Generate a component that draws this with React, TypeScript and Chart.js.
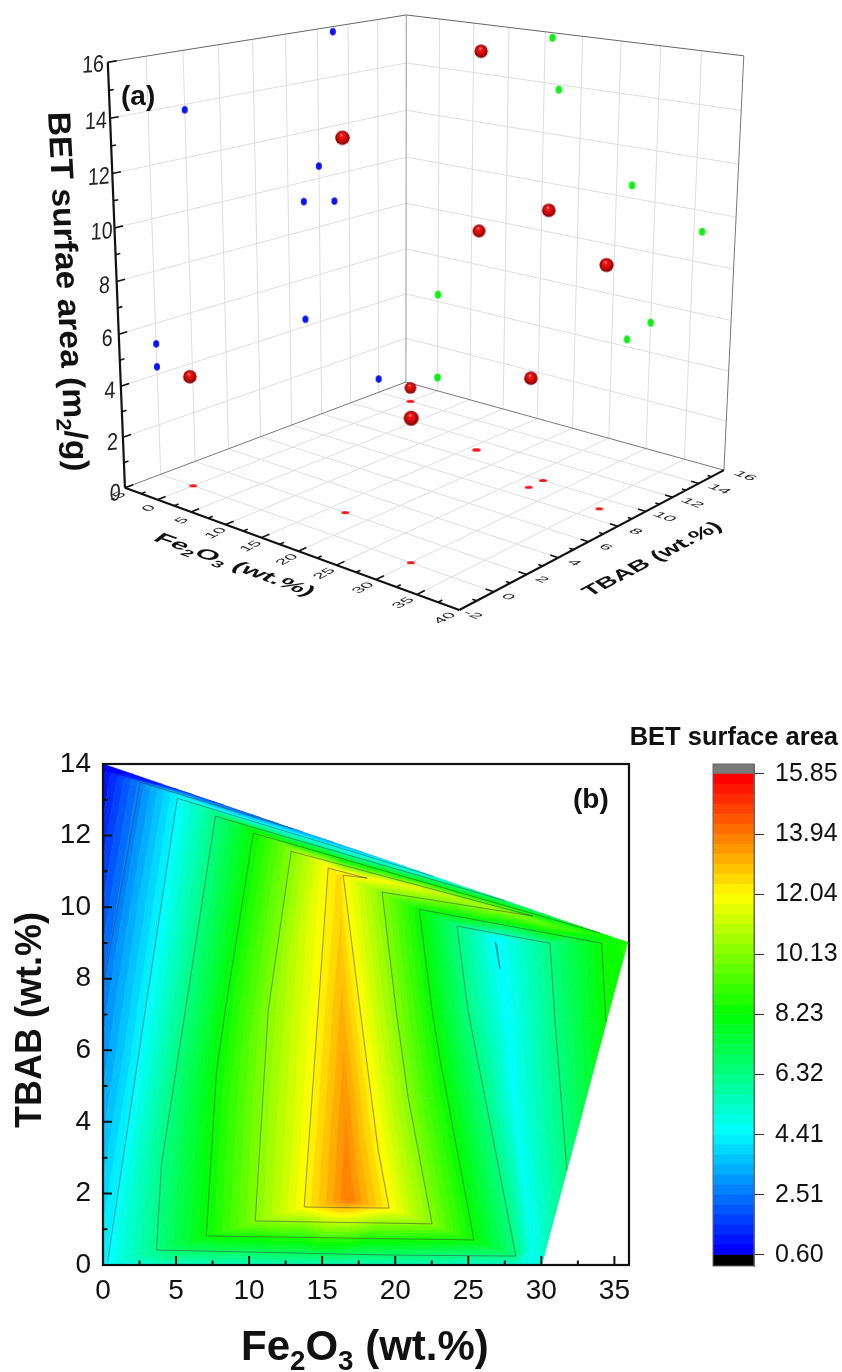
import React, { useEffect, useRef } from "react";
import { Chart, registerables } from "chart.js";
Chart.register(...registerables);

// ---------- measured data (panel a) ----------
const fe2o3 = [16, 17, 27, 36, 0, 30, 27, 0, 16];
const tbab = [11, 2, 10, 9, 0, 0, 9, 14, 11];
const bet = [15.8, 13.8, 10.5, 9.2, 4.3, 5.2, 4.3, 0.6, 8.9];
const feTicks = [-5, 0, 5, 10, 15, 20, 25, 30, 35, 40];
const tbTicks = [-2, 0, 2, 4, 6, 8, 10, 12, 14, 16];
const zTicks = [0, 2, 4, 6, 8, 10, 12, 14, 16];

// ---------- contour mesh (panel b): columns of nodes, bottom edge to top edge ----------
const meshFe = [
  [0, 0, 0, 0, 0, 0, 0],
  [0.17, 0.31, 1.95, 2.9, 5.09, 5.09, 5.09],
  [3.45, 3.66, 4.61, 5.64, 7.69, 7.69, 7.69],
  [6.87, 7.07, 7.62, 8.37, 10.29, 10.29, 10.29],
  [10.22, 10.42, 10.83, 11.31, 12.88, 12.88, 12.88],
  [13.57, 13.77, 14.32, 14.73, 15.41, 15.41, 15.41],
  [16.71, 16.78, 16.58, 16.37, 16.23, 16.3, 16.3],
  [19.79, 19.58, 18.42, 17.6, 16.44, 18.08, 18.08],
  [22.73, 22.52, 20.88, 20.06, 19.1, 19.1, 19.1],
  [25.6, 25.39, 23.55, 22.52, 21.64, 21.64, 21.64],
  [28.4, 28.26, 26.21, 24.98, 24.23, 24.23, 24.23],
  [29.22, 29.36, 28.13, 27.65, 26.96, 26.96, 26.96],
  [29.7, 30.45, 31.48, 30.93, 30.59, 30.59, 30.59],
  [30, 30.72, 32.09, 34.42, 34.14, 34.14, 34.14],
  [30, 30.72, 32.09, 34.42, 35.85, 35.92, 36],
];
const meshTbab = [
  [0, 0.7, 4.61, 7.77, 13.69, 13.83, 14],
  [0, 0.28, 4.61, 7.12, 13.04, 13.13, 13.29],
  [0, 0.42, 4.61, 7.12, 12.54, 12.63, 12.93],
  [0, 0.81, 4.61, 7.12, 12.07, 12.15, 12.57],
  [0, 1.23, 4.61, 7.12, 11.56, 11.64, 12.21],
  [0, 1.62, 4.61, 7.12, 11.09, 11.17, 11.86],
  [0, 1.82, 4.61, 7.12, 10.75, 10.98, 11.74],
  [0, 1.59, 4.61, 7.12, 10.89, 10.81, 11.49],
  [0, 1.15, 4.69, 7.12, 10.42, 10.75, 11.35],
  [0, 0.7, 4.61, 7.12, 9.94, 10.53, 11],
  [0, 0.25, 4.61, 7.12, 9.47, 10.25, 10.63],
  [0, 0.42, 4.61, 7.12, 9.13, 9.94, 10.26],
  [0, 0.98, 3.21, 6.84, 8.99, 9.5, 9.75],
  [0, 1.12, 3.21, 6.79, 8.99, 9.22, 9.26],
  [0, 1.12, 3.21, 6.79, 8.94, 9, 9],
];
const meshBet = [
  [4.3, 4.2, 3.2, 2.51, 0.9, 0.75, 0.6],
  [4.41, 4.41, 4.41, 4.41, 4.41, 4.41, 1.4],
  [5.3, 6.32, 6.32, 6.32, 6.32, 6.32, 1.8],
  [5.4, 8.23, 8.23, 8.23, 8.23, 8.23, 2.1],
  [5.45, 10.13, 10.13, 10.13, 10.13, 10.13, 2.7],
  [5.5, 12.04, 12.04, 12.04, 12.04, 12.04, 3.1],
  [5.5, 13.95, 13.55, 13.1, 12.5, 12.3, 3.2],
  [5.5, 12.04, 12.04, 12.04, 12.04, 12.04, 3.5],
  [5.4, 10.13, 10.13, 10.13, 10.13, 11.87, 3.9],
  [5.2, 8.23, 8.23, 8.23, 8.23, 11.45, 4.2],
  [5, 6.32, 6.32, 6.32, 6.32, 10.8, 5.3],
  [4.7, 4.7, 4.6, 4.5, 4.41, 10.45, 6.1],
  [4.85, 5.5, 6.32, 6.32, 6.32, 9.4, 6.9],
  [5.05, 5.9, 6.6, 8.23, 8.23, 8.5, 8],
  [5.05, 5.9, 6.6, 8.23, 8.6, 8.6, 8.6],
];
const contourLines: number[][][] = [
  [[0, 7.77], [2.56, 13.49], [13, 12.19]],
  [[0.31, 0.08], [2.9, 7.12], [5.09, 13.04], [22.6, 10.86]],
  [[27.5, 10.18], [7.69, 12.54], [5.64, 7.12], [4.0, 2.8], [3.66, 0.42], [19.2, 0.28], [28.26, 0.25], [24.98, 7.12], [24.23, 9.47], [30.59, 8.99], [30.93, 6.84], [31.75, 2.65]],
  [[34, 9.28], [10.29, 12.07], [8.37, 7.12], [7.76, 5.36], [7.07, 0.81], [25.39, 0.7], [23.07, 5.73], [22.52, 7.12], [21.64, 9.94], [34.14, 8.99], [34.42, 6.79]],
  [[12.88, 11.56], [29.43, 9.75], [19.1, 10.42], [20.06, 7.12], [20.88, 4.69], [22.52, 1.15], [10.42, 1.23], [11.31, 7.12], [12.88, 11.56]],
  [[15.41, 11.09], [18.08, 10.81], [16.44, 10.89], [17.6, 7.12], [18.83, 3.21], [19.58, 1.59], [13.77, 1.62], [14.73, 7.12], [15.41, 11.09]],
  [[26.83, 9.02], [27.17, 8.27], [26.96, 8.95], [26.83, 9.02]],
];
const xTicksB = [0, 5, 10, 15, 20, 25, 30, 35];
const yTicksB = [0, 2, 4, 6, 8, 10, 12, 14];
const barTicks = [0.6, 2.51, 4.41, 6.32, 8.23, 10.13, 12.04, 13.94, 15.85];
const LEVEL_MIN = 0.6;
const LEVEL_MAX = 15.85;
const LEVEL_COUNT = 48;

// ---------- projection of the 3D box ----------
const anchors = [
  [-5, -2, 0, 125, 488], [40, -2, 0, 459, 610], [40, 16, 0, 724, 470], [-5, 16, 0, 406, 382],
  [-5, -2, 16, 108, 62], [-5, 16, 16, 406, 15], [40, 16, 16, 744, 56],
];
function solve(A: number[][], b: number[]) {
  const n = b.length;
  const M = A.map((r, i) => [...r, b[i]]);
  for (let c = 0; c < n; c++) {
    let p = c;
    for (let r = c; r < n; r++) if (Math.abs(M[r][c]) > Math.abs(M[p][c])) p = r;
    [M[c], M[p]] = [M[p], M[c]];
    for (let r = 0; r < n; r++) {
      if (r === c) continue;
      const f = M[r][c] / M[c][c];
      for (let k = c; k <= n; k++) M[r][k] -= f * M[c][k];
    }
  }
  return M.map((r, i) => r[n] / r[i]);
}
function fit() {
  const rows: number[][] = [], rhs: number[] = [];
  for (const [fe, tb, z, x, y] of anchors) {
    const u = (fe + 5) / 45, v = (tb + 2) / 18, w = z / 16, X = x / 1000, Y = y / 1000;
    rows.push([u, v, w, 1, 0, 0, 0, 0, -X * u, -X * v, -X * w]); rhs.push(X);
    rows.push([0, 0, 0, 0, u, v, w, 1, -Y * u, -Y * v, -Y * w]); rhs.push(Y);
  }
  const N = Array.from({ length: 11 }, (_, i) => Array.from({ length: 11 }, (_, j) => rows.reduce((s, r) => s + r[i] * r[j], 0)));
  const B = Array.from({ length: 11 }, (_, i) => rows.reduce((s, r, k) => s + r[i] * rhs[k], 0));
  return solve(N, B);
}
const P = fit();
function project(fe: number, tb: number, z: number) {
  const u = (fe + 5) / 45, v = (tb + 2) / 18, w = z / 16;
  const d = P[8] * u + P[9] * v + P[10] * w + 1;
  return { x: (1000 * (P[0] * u + P[1] * v + P[2] * w + P[3])) / d, y: (1000 * (P[4] * u + P[5] * v + P[6] * w + P[7])) / d, d };
}
const SANS = '"Liberation Sans", Arial, sans-serif';

function lineDs(points: { x: number; y: number }[], color: string, width: number, dash: number[] = []) {
  return { type: "scatter", data: points, showLine: true, borderColor: color, borderWidth: width, borderDash: dash, pointRadius: 0, fill: false, tension: 0 };
}
function seg(a: number[], b: number[]) {
  return [project(a[0], a[1], a[2]), project(b[0], b[1], b[2])];
}
function sprite(w: number, h: number, color: string) {
  const c = document.createElement("canvas");
  c.width = Math.ceil(w) + 2; c.height = Math.ceil(h) + 2;
  const g = c.getContext("2d")!;
  g.fillStyle = color;
  g.beginPath();
  g.ellipse(c.width / 2, c.height / 2, w / 2, h / 2, 0, 0, Math.PI * 2);
  g.fill();
  return c;
}
function sphere(d: number) {
  const c = document.createElement("canvas");
  c.width = c.height = Math.ceil(d) + 2;
  const g = c.getContext("2d")!;
  const m = c.width / 2, r = d / 2;
  const grad = g.createRadialGradient(m - r * 0.15, m - r * 0.45, r * 0.03, m, m, r);
  grad.addColorStop(0, "#ffb0b0");
  grad.addColorStop(0.2, "#f21a1a");
  grad.addColorStop(0.6, "#d00a0a");
  grad.addColorStop(1, "#780000");
  g.fillStyle = grad;
  g.beginPath();
  g.arc(m, m, r, 0, Math.PI * 2);
  g.fill();
  return c;
}
type Run = { t: string; sub?: boolean };
function drawRuns(ctx: CanvasRenderingContext2D, x: number, y: number, u: number[], v: number[], font: (s: number) => string, size: number, runs: Run[]) {
  ctx.save();
  ctx.transform(u[0], u[1], v[0], v[1], x, y);
  ctx.textBaseline = "alphabetic";
  ctx.textAlign = "left";
  let pen = 0;
  for (const r of runs) {
    const s = r.sub ? size * 0.66 : size;
    ctx.font = font(s);
    ctx.fillText(r.t, pen, r.sub ? size * 0.24 : 0);
    pen += ctx.measureText(r.t).width;
  }
  ctx.restore();
}
function centered(ctx: CanvasRenderingContext2D, text: string, x: number, y: number, u: number[], v: number[], size: number) {
  ctx.save();
  ctx.transform(u[0], u[1], v[0], v[1], x, y);
  ctx.font = `${size}px ${SANS}`;
  ctx.textAlign = "center";
  ctx.textBaseline = "middle";
  ctx.fillText(text, 0, 0);
  ctx.restore();
}

const panelAText = {
  id: "panelAText",
  afterDraw(chart: any) {
    const ctx = chart.ctx as CanvasRenderingContext2D;
    ctx.save();
    ctx.fillStyle = "#222";
    const feU = [0.8, -0.42], feV = [0.62, 0.27];
    for (const t of feTicks) {
      const p = project(t + 1.2 - 0.025 * (t + 5), -2.85, 0);
      centered(ctx, String(t), p.x, p.y, feU, feV, 19);
    }
    const tbU = [0.9, 0.33], tbV = [-0.55, 0.3];
    for (const t of tbTicks) {
      const p = project(42.6 - (16 - t) * 0.06, t, 0);
      centered(ctx, String(t), p.x, p.y, tbU, tbV, 19);
    }
    for (const t of zTicks) {
      const p = project(-5, -2.75, t);
      centered(ctx, String(t), p.x + (16 - t) * 0.25, p.y + 1, [0.82, -0.07], [-0.03, 1], 24);
    }
    const bold = (s: number) => `bold ${s}px ${SANS}`;
    ctx.fillStyle = "#111";
    drawRuns(ctx, 121, 105, [1, 0], [0, 1], bold, 28, [{ t: "(a)" }]);
    drawRuns(ctx, 48, 112, [0.055, 1.05], [-1, 0.02], bold, 32, [
      { t: "BET surfae area (m" }, { t: "2", sub: true }, { t: "/g)" },
    ]);
    drawRuns(ctx, 152, 540, [0.98, 0.355], [-0.55, 0.42], bold, 27, [
      { t: "Fe" }, { t: "2", sub: true }, { t: "O" }, { t: "3", sub: true }, { t: " (wt.%)" },
    ]);
    drawRuns(ctx, 590, 597, [0.89, -0.46], [0.6, 0.45], bold, 25, [{ t: "TBAB (wt.%)" }]);
    ctx.restore();
  },
};

function bandColor(i: number) {
  const t = (i / (LEVEL_COUNT - 1)) * 4;
  const s = Math.min(3, Math.floor(t));
  const f = Math.round((t - s) * 255);
  const c = [`0,${f},255`, `0,255,${255 - f}`, `${f},255,0`, `255,${255 - f},0`][s];
  return `rgb(${c})`;
}
const contourFill = {
  id: "contourFill",
  beforeDatasetsDraw(chart: any) {
    const ctx = chart.ctx as CanvasRenderingContext2D;
    const sx = chart.scales.x, sy = chart.scales.y;
    const step = (LEVEL_MAX - LEVEL_MIN) / LEVEL_COUNT;
    const clip = (poly: number[][], lvl: number, keepAbove: boolean) => {
      const out: number[][] = [];
      for (let i = 0; i < poly.length; i++) {
        const a = poly[i], b = poly[(i + 1) % poly.length];
        const ia = keepAbove ? a[2] >= lvl : a[2] <= lvl;
        const ib = keepAbove ? b[2] >= lvl : b[2] <= lvl;
        if (ia) out.push(a);
        if (ia !== ib) {
          const k = (lvl - a[2]) / (b[2] - a[2]);
          out.push([a[0] + (b[0] - a[0]) * k, a[1] + (b[1] - a[1]) * k, lvl]);
        }
      }
      return out;
    };
    const node = (c: number, r: number) => [meshFe[c][r], meshTbab[c][r], meshBet[c][r]];
    const paint = (tri: number[][]) => {
      for (let i = 0; i < LEVEL_COUNT; i++) {
        const lo = LEVEL_MIN + i * step, hi = lo + step;
        let poly = tri;
        if (i > 0) poly = clip(poly, lo, true);
        if (poly.length && i < LEVEL_COUNT - 1) poly = clip(poly, hi, false);
        if (poly.length < 3) continue;
        const col = bandColor(i);
        ctx.fillStyle = col;
        ctx.strokeStyle = col;
        ctx.lineWidth = 0.6;
        ctx.beginPath();
        poly.forEach((p, k) => {
          const X = sx.getPixelForValue(p[0]), Y = sy.getPixelForValue(p[1]);
          if (k) ctx.lineTo(X, Y); else ctx.moveTo(X, Y);
        });
        ctx.closePath();
        ctx.fill();
        ctx.stroke();
      }
    };
    for (let c = 0; c < meshFe.length - 1; c++) {
      for (let r = 0; r < meshFe[c].length - 1; r++) {
        const a = node(c, r), b = node(c + 1, r), d = node(c + 1, r + 1), e = node(c, r + 1);
        paint([a, b, d]);
        paint([a, d, e]);
      }
    }
  },
};
const panelBFrame = {
  id: "panelBFrame",
  afterDatasetsDraw(chart: any) {
    const ctx = chart.ctx as CanvasRenderingContext2D;
    const { left, right, top, bottom } = chart.chartArea;
    const sx = chart.scales.x, sy = chart.scales.y;
    ctx.save();
    ctx.strokeStyle = "#111";
    ctx.lineWidth = 2;
    ctx.beginPath();
    for (let v = 0; v <= 36; v += 2.5) {
      const X = sx.getPixelForValue(v);
      ctx.moveTo(X, bottom);
      ctx.lineTo(X, bottom - (xTicksB.includes(v) ? 9 : 4.5));
    }
    for (let v = 0; v <= 14; v += 1) {
      const Y = sy.getPixelForValue(v);
      ctx.moveTo(left, Y);
      ctx.lineTo(left + (yTicksB.includes(v) ? 9 : 4.5), Y);
    }
    ctx.stroke();
    ctx.lineWidth = 2.2;
    ctx.strokeRect(left, top, right - left, bottom - top);
    ctx.fillStyle = "#111";
    const bold = (s: number) => `bold ${s}px ${SANS}`;
    drawRuns(ctx, 573, 108, [1, 0], [0, 1], bold, 28, [{ t: "(b)" }]);
    drawRuns(ctx, 241, 660, [1, 0], [0, 1], bold, 42, [
      { t: "Fe" }, { t: "2", sub: true }, { t: "O" }, { t: "3", sub: true }, { t: " (wt.%)" },
    ]);
    drawRuns(ctx, 41, 428, [0, -1], [1, 0], bold, 36, [{ t: "TBAB (wt.%)" }]);
    ctx.restore();
  },
};

export default function App() {
  const refA = useRef<HTMLCanvasElement>(null);
  const refB = useRef<HTMLCanvasElement>(null);
  const refC = useRef<HTMLCanvasElement>(null);
  useEffect(() => {
    document.body.style.margin = "0";
    const pts = fe2o3.map((f, i) => project(f, tbab[i], bet[i]));
    const avgD = pts.reduce((s, p) => s + p.d, 0) / pts.length;
    const grid = "#dedede";
    const datasets: any[] = [
      { type: "scatter", data: pts.map((p) => ({ x: p.x, y: p.y })), pointStyle: pts.map((p) => sphere((13.5 * avgD) / p.d)), pointRadius: 7, showLine: false },
      { type: "scatter", data: bet.map((z, i) => project(-5, tbab[i], z)), pointStyle: sprite(6, 7.5, "#0a14f0"), pointRadius: 4, showLine: false },
      { type: "scatter", data: bet.map((z, i) => project(fe2o3[i], 16, z)), pointStyle: sprite(6.5, 8, "#12ee18"), pointRadius: 4, showLine: false },
      { type: "scatter", data: fe2o3.map((f, i) => project(f, tbab[i], 0)), pointStyle: sprite(8, 3, "#f01818"), pointRadius: 4, showLine: false },
    ];
    datasets.push(lineDs(seg([-5, -2, 0], [-5, -2, 16]), "#111", 2.2));
    datasets.push(lineDs(seg([-5, -2, 0], [40, -2, 0]), "#111", 2.2));
    datasets.push(lineDs(seg([40, -2, 0], [40, 16, 0]), "#111", 2.2));
    const tick = (a: number[], b: number[]) => datasets.push(lineDs(seg(a, b), "#111", 1.6));
    for (let v = -5; v < 40; v += 2.5) tick([v, -2, 0], [v, -2 + (feTicks.includes(v) ? 0.45 : 0.25), 0]);
    for (let v = -1; v < 16; v += 1) tick([40, v, 0], [40 - (tbTicks.includes(v) ? 0.95 : 0.5), v, 0]);
    for (let v = 1; v <= 16; v += 1) tick([-5, -2, v], [-5, -2 + (zTicks.includes(v) ? 0.45 : 0.25), v]);
    datasets.push(lineDs(seg([-5, -2, 16], [-5, 16, 16]), "#666", 1));
    datasets.push(lineDs(seg([-5, 16, 16], [40, 16, 16]), "#666", 1));
    datasets.push(lineDs(seg([40, 16, 16], [40, 16, 0]), "#777", 1));
    datasets.push(lineDs(seg([-5, 16, 16], [-5, 16, 0]), "#aaa", 1.2));
    datasets.push(lineDs(seg([-5, 16, 0], [-5, -2, 0]), "#777", 1));
    datasets.push(lineDs(seg([-5, 16, 0], [40, 16, 0]), "#777", 1));
    for (const t of feTicks.slice(1, -1)) {
      datasets.push(lineDs(seg([t, -2, 0], [t, 16, 0]), grid, 1));
      datasets.push(lineDs(seg([t, 16, 0], [t, 16, 16]), grid, 1));
    }
    for (const t of tbTicks.slice(1, -1)) {
      datasets.push(lineDs(seg([-5, t, 0], [40, t, 0]), grid, 1));
      datasets.push(lineDs(seg([-5, t, 0], [-5, t, 16]), grid, 1));
    }
    for (const t of zTicks.slice(1, -1)) {
      datasets.push(lineDs(seg([-5, -2, t], [-5, 16, t]), grid, 1));
      datasets.push(lineDs(seg([-5, 16, t], [40, 16, t]), grid, 1));
    }
    const chartA = new Chart(refA.current!, {
      type: "scatter",
      data: { datasets },
      options: {
        animation: false, responsive: false,
        layout: { padding: 0, autoPadding: false },
        plugins: { legend: { display: false }, tooltip: { enabled: false } },
        scales: {
          x: { type: "linear", min: 0, max: 842, display: false },
          y: { type: "linear", min: 0, max: 700, reverse: true, display: false },
        },
      },
      plugins: [panelAText],
    } as any);

    const chartB = new Chart(refB.current!, {
      type: "scatter",
      data: {
        datasets: contourLines.map((l) => ({
          data: l.map((p) => ({ x: p[0], y: p[1] })), showLine: true, borderColor: "rgba(60,60,60,0.65)", borderWidth: 0.8, pointRadius: 0, tension: 0,
        })),
      },
      options: {
        animation: false, responsive: false,
        layout: { padding: { top: 64, right: 51, left: 0, bottom: 0 }, autoPadding: false },
        plugins: { legend: { display: false }, tooltip: { enabled: false } },
        scales: {
          x: {
            type: "linear", min: 0, max: 36,
            grid: { display: false, drawTicks: false }, border: { display: false },
            ticks: { stepSize: 5, includeBounds: false, padding: 9, maxRotation: 0, color: "#111", font: { family: SANS, size: 28 } },
            afterFit: (s: any) => { s.height = 107; },
          },
          y: {
            type: "linear", min: 0, max: 14,
            grid: { display: false, drawTicks: false }, border: { display: false },
            ticks: { stepSize: 2, padding: 12, color: "#111", font: { family: SANS, size: 28 } },
            afterFit: (s: any) => { s.width = 103; },
          },
        },
      },
      plugins: [contourFill, panelBFrame],
    } as any);

    const step = (LEVEL_MAX - LEVEL_MIN) / LEVEL_COUNT;
    const barData: any[] = [{ data: [[0.25, LEVEL_MIN]], backgroundColor: "#000" }];
    for (let i = 0; i < LEVEL_COUNT; i++) {
      barData.push({ data: [[LEVEL_MIN + i * step, LEVEL_MIN + (i + 1) * step]], backgroundColor: bandColor(i) });
    }
    barData.push({ data: [[LEVEL_MAX, 16.167]], backgroundColor: "#7a7a7a" });
    const chartC = new Chart(refC.current!, {
      type: "bar",
      data: { labels: [""], datasets: barData.map((d) => ({ ...d, barPercentage: 1, categoryPercentage: 1, stack: "s", borderWidth: 0 })) },
      options: {
        animation: false, responsive: false,
        layout: { padding: { top: 64, bottom: 106, left: 93, right: 0 }, autoPadding: false },
        plugins: { legend: { display: false }, tooltip: { enabled: false }, title: { display: false } },
        scales: {
          x: { stacked: true, display: false },
          y: {
            position: "right", stacked: false, min: 0.25, max: 16.167,
            afterBuildTicks: (s: any) => { s.ticks = barTicks.map((v) => ({ value: v })); },
            afterFit: (s: any) => { s.width = 88; },
            border: { display: true, color: "#666", width: 1 },
            grid: { drawOnChartArea: false, color: "#333", tickLength: 10, lineWidth: 1 },
            ticks: { padding: 11, color: "#111", font: { family: SANS, size: 25 }, callback: (v: any) => Number(v).toFixed(2) },
          },
        },
      },
      plugins: [{
        id: "barFrame",
        afterDraw(chart: any) {
          const ctx = chart.ctx as CanvasRenderingContext2D;
          const { left, right, top, bottom } = chart.chartArea;
          ctx.save();
          ctx.strokeStyle = "#666";
          ctx.lineWidth = 1;
          ctx.strokeRect(left, top, right - left, bottom - top);
          ctx.fillStyle = "#111";
          ctx.font = `bold 25.5px ${SANS}`;
          ctx.textAlign = "right";
          ctx.textBaseline = "alphabetic";
          ctx.fillText("BET surface area", 218, 45);
          ctx.restore();
        },
      }],
    } as any);
    return () => { chartA.destroy(); chartB.destroy(); chartC.destroy(); };
  }, []);
  const abs = (left: number, top: number, w: number, h: number): React.CSSProperties => ({ position: "absolute", left, top, width: w, height: h, display: "block" });
  return (
    <div style={{ position: "relative", width: 842, height: 1372, background: "#fff" }}>
      <canvas ref={refA} width={842} height={700} style={abs(0, 0, 842, 700)} />
      <canvas ref={refB} width={680} height={672} style={abs(0, 700, 680, 672)} />
      <canvas ref={refC} width={222} height={672} style={abs(620, 700, 222, 672)} />
    </div>
  );
}
